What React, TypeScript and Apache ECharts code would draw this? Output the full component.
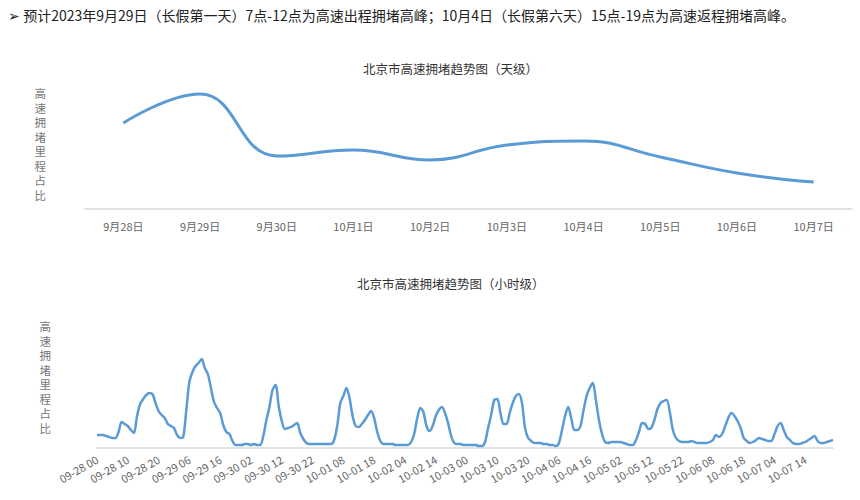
import * as echarts from 'echarts';
import { useEffect, useRef } from 'react';

const headline =
  '➢ 预计2023年9月29日（长假第一天）7点-12点为高速出程拥堵高峰；10月4日（长假第六天）15点-19点为高速返程拥堵高峰。';
const dayTitle = '北京市高速拥堵趋势图（天级）';
const hourTitle = '北京市高速拥堵趋势图（小时级）';
const yName = '高速拥堵里程占比';

const dayLabels = ['9月28日', '9月29日', '9月30日', '10月1日', '10月2日', '10月3日', '10月4日', '10月5日', '10月6日', '10月7日'];
const dayValues = [86, 115, 53, 59, 49, 64, 68, 52, 36, 27];

const hourDays = ['09-28', '09-29', '09-30', '10-01', '10-02', '10-03', '10-04', '10-05', '10-06', '10-07'];
const hourValues = [
  13, 13, 13, 12, 11, 10, 10, 16, 26, 24,
  22, 18, 15, 32, 44, 49, 53, 55, 54, 45,
  37, 33, 30, 24, 22, 20, 13, 10, 11, 38,
  66, 76, 82, 85, 89, 80, 74, 60, 46, 40,
  35, 23, 16, 14, 7, 3, 3, 3, 4, 4,
  3, 4, 3, 3, 12, 28, 41, 58, 63, 42,
  27, 19, 20, 21, 23, 25, 15, 9, 5, 4,
  4, 4, 4, 4, 4, 4, 4, 8, 22, 45,
  52, 60, 50, 32, 22, 21, 24, 28, 33, 37,
  30, 16, 7, 4, 4, 4, 4, 3, 3, 3,
  3, 3, 6, 14, 30, 40, 36, 22, 17, 22,
  32, 38, 41, 35, 25, 12, 5, 4, 4, 3,
  3, 3, 3, 3, 2, 2, 6, 20, 33, 48,
  49, 35, 24, 24, 35, 45, 52, 54, 45, 20,
  10, 7, 5, 5, 5, 4, 4, 3, 3, 2,
  5, 18, 32, 41, 30, 18, 18, 22, 38, 52,
  60, 65, 48, 28, 14, 6, 5, 6, 6, 6,
  6, 5, 4, 3, 3, 8, 16, 25, 24, 19,
  20, 28, 39, 45, 47, 48, 36, 18, 10, 7,
  6, 6, 6, 7, 6, 5, 5, 5, 5, 6,
  8, 13, 11, 14, 22, 30, 35, 32, 27, 20,
  10, 7, 5, 6, 8, 10, 9, 8, 7, 7,
  14, 22, 25, 18, 11, 8, 5, 4, 4, 5,
  6, 8, 10, 12, 7, 5, 5, 6, 7, 8,
];

const hourLabels: string[] = [];
hourDays.forEach(d => {
  for (let h = 0; h < 24; h++) hourLabels.push(`${d} ${String(h).padStart(2, '0')}`);
});

const FONT = '"Noto Sans CJK SC", "Noto Sans", sans-serif';
const BLUE = '#5b9bd5';

export default function App() {
  const chartRef = useRef<HTMLDivElement>(null);

  useEffect(() => {
    if (!chartRef.current) return;
    const chart = echarts.init(chartRef.current, undefined, { renderer: 'svg' });

    const axisLine = { lineStyle: { color: '#d9d9d9', width: 1.5 } };
    const yNameStyle = { color: '#777', fontSize: 11.5, lineHeight: 14.5, fontFamily: FONT };

    const option: echarts.EChartsOption = {
      animation: false,
      textStyle: { fontFamily: FONT },
      title: [
        {
          text: headline,
          left: 8,
          top: 8,
          padding: 0,
          textStyle: { fontSize: 14, fontWeight: 'normal', color: '#222', fontFamily: FONT },
        },
        {
          text: dayTitle,
          left: 363,
          top: 62,
          padding: 0,
          textStyle: { fontSize: 12.5, fontWeight: 'normal', color: '#333', fontFamily: FONT },
        },
        {
          text: hourTitle,
          left: 357,
          top: 277,
          padding: 0,
          textStyle: { fontSize: 12.5, fontWeight: 'normal', color: '#333', fontFamily: FONT },
        },
      ],
      grid: [
        { left: 85, right: 8, top: 79, height: 130 },
        { left: 97, right: 27, top: 306, height: 142 },
      ],
      xAxis: [
        {
          type: 'category',
          gridIndex: 0,
          data: dayLabels,
          boundaryGap: true,
          axisLine,
          axisTick: { show: false },
          axisLabel: { color: '#666', fontSize: 11, margin: 11 },
        },
        {
          type: 'category',
          gridIndex: 1,
          data: hourLabels,
          boundaryGap: false,
          axisLine,
          axisTick: { show: false },
          axisLabel: { color: '#666', fontSize: 11, rotate: 30, interval: 9, margin: 10 },
        },
      ],
      yAxis: [
        {
          type: 'value',
          gridIndex: 0,
          min: 0,
          max: 130,
          name: yName.split('').join('\n'),
          nameLocation: 'middle',
          nameRotate: 0,
          nameGap: 39,
          nameTextStyle: yNameStyle,
          axisLine: { show: false },
          axisTick: { show: false },
          axisLabel: { show: false },
          splitLine: { show: false },
        },
        {
          type: 'value',
          gridIndex: 1,
          min: 0,
          max: 142,
          name: yName.split('').join('\n'),
          nameLocation: 'middle',
          nameRotate: 0,
          nameGap: 46,
          nameTextStyle: yNameStyle,
          axisLine: { show: false },
          axisTick: { show: false },
          axisLabel: { show: false },
          splitLine: { show: false },
        },
      ],
      series: [
        {
          type: 'line',
          xAxisIndex: 0,
          yAxisIndex: 0,
          data: dayValues,
          smooth: 0.45,
          showSymbol: false,
          lineStyle: { color: BLUE, width: 3 },
          itemStyle: { color: BLUE },
        },
        {
          type: 'line',
          xAxisIndex: 1,
          yAxisIndex: 1,
          data: hourValues,
          smooth: 0.3,
          showSymbol: false,
          lineStyle: { color: BLUE, width: 2.5 },
          itemStyle: { color: BLUE },
        },
      ],
    };

    chart.setOption(option);
    return () => chart.dispose();
  }, []);

  return (
    <div
      ref={chartRef}
      style={{ position: 'absolute', left: 0, top: 0, width: 860, height: 500, background: '#fff' }}
    />
  );
}
